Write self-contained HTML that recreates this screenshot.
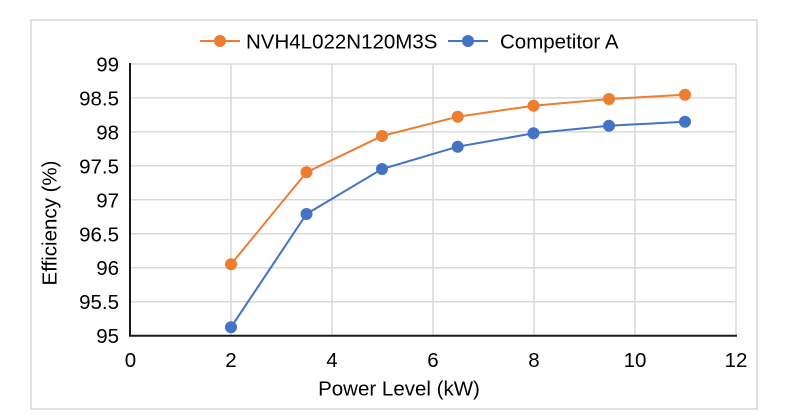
<!DOCTYPE html>
<html><head><meta charset="utf-8"><style>
html,body{margin:0;padding:0;background:#fff;}
svg{display:block;}
text{font-family:"Liberation Sans",Arial,sans-serif;fill:#000;}
</style></head><body>
<svg width="796" height="420" viewBox="0 0 796 420" xmlns="http://www.w3.org/2000/svg">
<rect x="0" y="0" width="796" height="420" fill="#fff"/>
<rect x="31" y="20" width="726" height="389" fill="none" stroke="#d9d9d9" stroke-width="1.5"/>
<g stroke="#d9d9d9" stroke-width="1.5">
<line x1="130" y1="64" x2="736" y2="64"/>
<line x1="130" y1="97.9" x2="736" y2="97.9"/>
<line x1="130" y1="131.9" x2="736" y2="131.9"/>
<line x1="130" y1="165.8" x2="736" y2="165.8"/>
<line x1="130" y1="199.8" x2="736" y2="199.8"/>
<line x1="130" y1="233.8" x2="736" y2="233.8"/>
<line x1="130" y1="267.7" x2="736" y2="267.7"/>
<line x1="130" y1="301.7" x2="736" y2="301.7"/>
<line x1="231" y1="64" x2="231" y2="336"/>
<line x1="332" y1="64" x2="332" y2="336"/>
<line x1="433" y1="64" x2="433" y2="336"/>
<line x1="534" y1="64" x2="534" y2="336"/>
<line x1="635" y1="64" x2="635" y2="336"/>
<line x1="736" y1="64" x2="736" y2="336"/>
</g>
<g stroke="#1a1a1a" stroke-width="2" fill="none">
<polyline points="130,63 130,335.7 737,335.7"/>
</g>
<g font-size="20.5" text-anchor="end">
<text x="119" y="71.5">99</text>
<text x="119" y="105.4">98.5</text>
<text x="119" y="139.4">98</text>
<text x="119" y="173.3">97.5</text>
<text x="119" y="207.3">97</text>
<text x="119" y="241.3">96.5</text>
<text x="119" y="275.2">96</text>
<text x="119" y="309.2">95.5</text>
<text x="119" y="343.2">95</text>
</g>
<g font-size="20.5" text-anchor="middle">
<text x="130.5" y="367">0</text>
<text x="231" y="367">2</text>
<text x="332" y="367">4</text>
<text x="433" y="367">6</text>
<text x="534" y="367">8</text>
<text x="635" y="367">10</text>
<text x="736" y="367">12</text>
<text x="399" y="395.5">Power Level (kW)</text>
<text transform="translate(56.5,223) rotate(-90)">Efficiency (%)</text>
</g>
<polyline fill="none" stroke="#ED7D31" stroke-width="2" points="231,264.3 306.5,172.3 382,136 457.7,116.7 533.5,105.7 609,99 685,94.7"/>
<polyline fill="none" stroke="#4472C4" stroke-width="2" points="231,327.3 306.5,214 382,169 457.7,146.7 533.5,133.3 609,125.7 685,121.7"/>
<g fill="#ED7D31">
<circle cx="231" cy="264.3" r="6"/><circle cx="306.5" cy="172.3" r="6"/><circle cx="382" cy="136" r="6"/><circle cx="457.7" cy="116.7" r="6"/><circle cx="533.5" cy="105.7" r="6"/><circle cx="609" cy="99" r="6"/><circle cx="685" cy="94.7" r="6"/>
</g>
<g fill="#4472C4">
<circle cx="231" cy="327.3" r="6"/><circle cx="306.5" cy="214" r="6"/><circle cx="382" cy="169" r="6"/><circle cx="457.7" cy="146.7" r="6"/><circle cx="533.5" cy="133.3" r="6"/><circle cx="609" cy="125.7" r="6"/><circle cx="685" cy="121.7" r="6"/>
</g>
<line x1="200" y1="41" x2="240" y2="41" stroke="#ED7D31" stroke-width="2"/>
<circle cx="220" cy="41" r="6" fill="#ED7D31"/>
<text x="246" y="48.5" font-size="20.5">NVH4L022N120M3S</text>
<line x1="448" y1="41" x2="488" y2="41" stroke="#4472C4" stroke-width="2"/>
<circle cx="468" cy="41" r="6" fill="#4472C4"/>
<text x="500" y="48.5" font-size="20.5">Competitor A</text>
</svg>
</body></html>
